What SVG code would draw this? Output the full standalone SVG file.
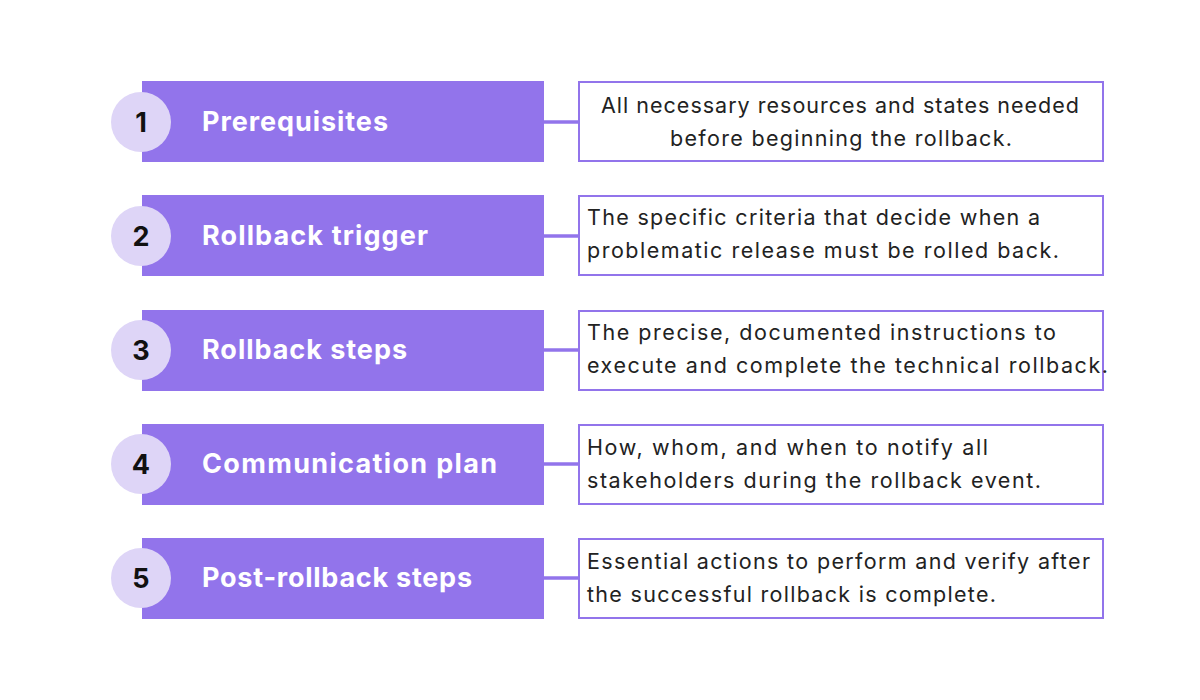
<svg xmlns="http://www.w3.org/2000/svg" width="1200" height="700" viewBox="0 0 1200 700">
<style>
.bar{fill:#9274EB}
.circ{fill:#DED5F7}
.num{font-family:Inter,"Open Sans",sans-serif;font-weight:700;font-size:27px;fill:#111}
.title{font-family:Inter,"Open Sans",sans-serif;font-weight:700;font-size:27px;fill:#fff}
.box{fill:#fff;stroke:#9274EB;stroke-width:2}
.desc{font-family:Inter,"Open Sans",sans-serif;font-size:21.5px;fill:#222}
.conn{stroke:#9274EB;stroke-width:3.5}
</style>
<rect width="1200" height="700" fill="#fff"/>
<g id="connectors">
<line class="conn" x1="544" y1="122" x2="579" y2="122"/>
<line class="conn" x1="544" y1="236" x2="579" y2="236"/>
<line class="conn" x1="544" y1="350" x2="579" y2="350"/>
<line class="conn" x1="544" y1="464" x2="579" y2="464"/>
<line class="conn" x1="544" y1="578" x2="579" y2="578"/>
</g>
<g id="step1"><rect class="bar" x="142" y="81" width="402" height="81"/><circle class="circ" cx="141" cy="122" r="30"/><text class="num" x="141" y="132" text-anchor="middle">1</text><text class="title" x="202" y="131" textLength="186">Prerequisites</text></g>
<g id="desc1"><rect class="box" x="579" y="82" width="524" height="79"/><text class="desc" x="601" y="113" textLength="478">All necessary resources and states needed</text><text class="desc" x="670" y="146" textLength="342">before beginning the rollback.</text></g>
<g id="step2"><rect class="bar" x="142" y="195" width="402" height="81"/><circle class="circ" cx="141" cy="236" r="30"/><text class="num" x="141" y="246" text-anchor="middle">2</text><text class="title" x="202" y="245" textLength="226">Rollback trigger</text></g>
<g id="desc2"><rect class="box" x="579" y="196" width="524" height="79"/><text class="desc" x="587" y="225" textLength="453">The specific criteria that decide when a</text><text class="desc" x="587" y="258" textLength="472">problematic release must be rolled back.</text></g>
<g id="step3"><rect class="bar" x="142" y="310" width="402" height="81"/><circle class="circ" cx="141" cy="350" r="30"/><text class="num" x="141" y="360" text-anchor="middle">3</text><text class="title" x="202" y="359" textLength="205">Rollback steps</text></g>
<g id="desc3"><rect class="box" x="579" y="311" width="524" height="79"/><text class="desc" x="587" y="340" textLength="469">The precise, documented instructions to</text><text class="desc" x="587" y="373" textLength="521">execute and complete the technical rollback.</text></g>
<g id="step4"><rect class="bar" x="142" y="424" width="402" height="81"/><circle class="circ" cx="141" cy="464" r="30"/><text class="num" x="141" y="474" text-anchor="middle">4</text><text class="title" x="202" y="473" textLength="295">Communication plan</text></g>
<g id="desc4"><rect class="box" x="579" y="425" width="524" height="79"/><text class="desc" x="587" y="455" textLength="401">How, whom, and when to notify all</text><text class="desc" x="587" y="488" textLength="454">stakeholders during the rollback event.</text></g>
<g id="step5"><rect class="bar" x="142" y="538" width="402" height="81"/><circle class="circ" cx="141" cy="578" r="30"/><text class="num" x="141" y="588" text-anchor="middle">5</text><text class="title" x="202" y="587" textLength="270">Post-rollback steps</text></g>
<g id="desc5"><rect class="box" x="579" y="539" width="524" height="79"/><text class="desc" x="587" y="569" textLength="503">Essential actions to perform and verify after</text><text class="desc" x="587" y="602" textLength="409">the successful rollback is complete.</text></g>
</svg>
